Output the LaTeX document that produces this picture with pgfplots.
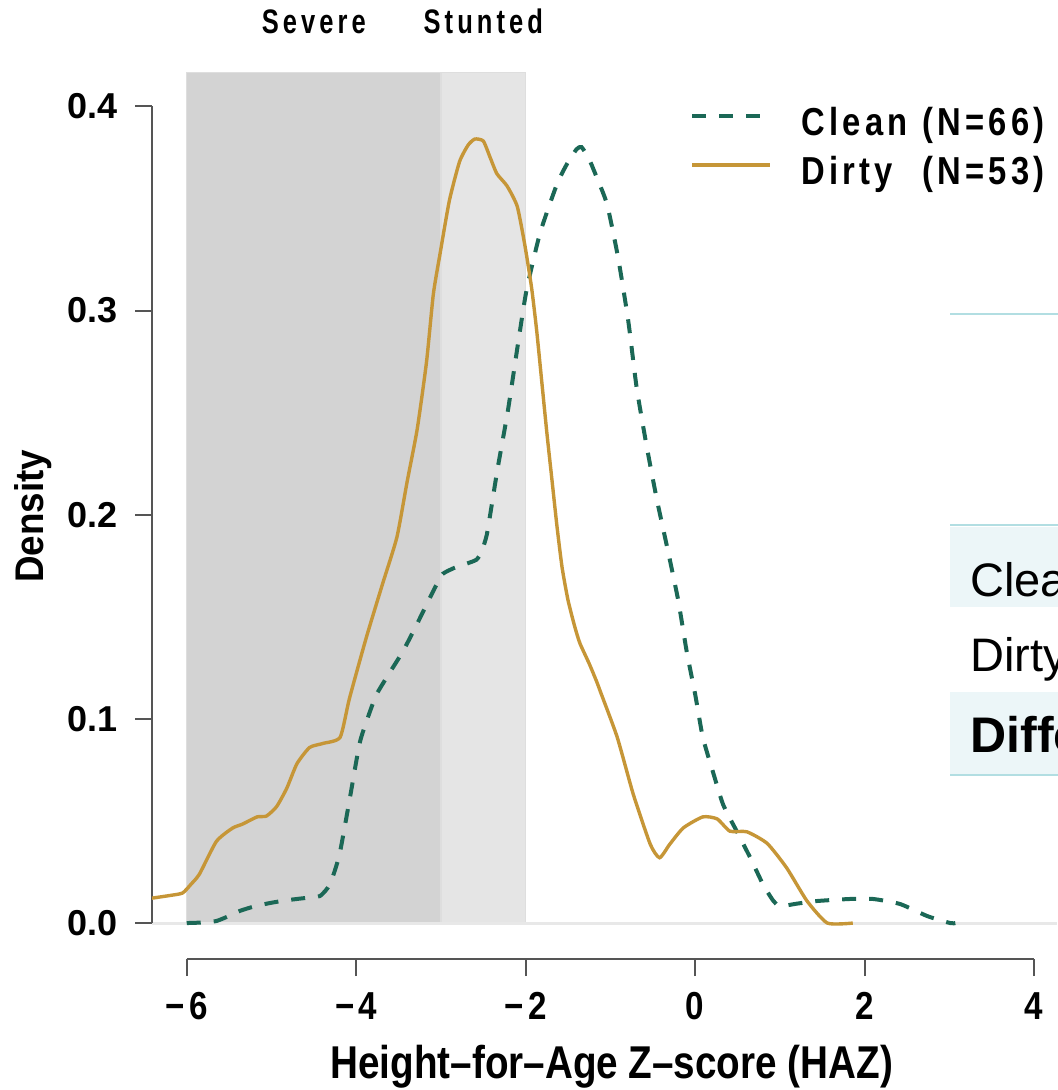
\documentclass[border=0pt]{standalone}
\usepackage{fontspec}
\setmainfont{Liberation Sans}
\newfontfamily\labfont{Liberation Sans}[FakeStretch=0.84]
\newfontfamily\ylabfont{Liberation Sans}[FakeStretch=0.92]
\newfontfamily\xtfont{Liberation Sans}[FakeStretch=0.85, LetterSpace=10]
\newfontfamily\ytfont{Liberation Sans}
\newfontfamily\legfont{Liberation Sans}[FakeStretch=0.84, LetterSpace=11]
\newfontfamily\topfont{Liberation Sans}[FakeStretch=0.75, LetterSpace=12]
\usepackage{pgfplots}
\pgfplotsset{compat=1.18}
\definecolor{dirty}{RGB}{198,150,55}
\definecolor{clean}{RGB}{27,104,86}
\definecolor{shadeA}{RGB}{211,211,211}
\definecolor{shadeB}{RGB}{229,229,229}
\definecolor{shadeEdge}{RGB}{222,222,222}
\definecolor{axgray}{RGB}{85,85,85}
\definecolor{tealline}{RGB}{178,222,226}
\definecolor{rowfill}{RGB}{236,246,248}
\definecolor{zeroline}{RGB}{232,232,232}
\begin{document}
\begin{tikzpicture}[x=1pt,y=1pt]
\useasboundingbox (0,0) rectangle (528.5,545);
% fragment of an overlapping slide table at the right edge
\fill[rowfill] (475,241.5) rectangle (540,281.5);
\fill[rowfill] (475,158) rectangle (540,199);
\draw[tealline, line width=1pt] (475,388) -- (540,388);
\draw[tealline, line width=1pt] (475,282.5) -- (540,282.5);
\draw[tealline, line width=1pt] (475,157.5) -- (540,157.5);
\node[anchor=base west, inner sep=0pt, font=\fontsize{23.5}{23.5}\selectfont] at (485,246.5) {Clean};
\node[anchor=base west, inner sep=0pt, font=\fontsize{23.5}{23.5}\selectfont] at (485,209) {Dirty};
\node[anchor=base west, inner sep=0pt, font=\bfseries\fontsize{25}{25}\selectfont] at (485,168.5) {Difference};
\begin{axis}[
  at={(76pt,65.5pt)}, anchor=south west,
  scale only axis, width=452.5pt, height=460pt,
  xmin=-6.41, xmax=4.27, ymin=-0.0176, ymax=0.433,
  clip=false,
  axis line style={draw=none},
  xtick={-6,-4,-2,0,2,4},
  xticklabels={{−6},{−4},{−2},0,2,4},
  ytick={0,0.1,0.2,0.3,0.4},
  yticklabels={0.0,0.1,0.2,0.3,0.4},
  xtick pos=lower, ytick pos=left,
  tick align=outside,
  major tick length=8.5pt,
  tick style={axgray, line width=1pt},
  xticklabel style={font=\xtfont\bfseries\fontsize{19.5}{19.5}\selectfont, anchor=base, yshift=-21.5pt},
  yticklabel style={font=\ytfont\bfseries\fontsize{18}{18}\selectfont, anchor=east, xshift=-5pt},
  xlabel={Height–for–Age Z–score (HAZ)},
  ylabel={Density},
  xlabel style={font=\labfont\bfseries\fontsize{23}{23}\selectfont, at={(axis description cs:0.508,-0.1304)}, anchor=base},
  ylabel style={font=\ylabfont\bfseries\fontsize{20}{20}\selectfont, at={(axis description cs:-0.131,0.481)}, anchor=center},
  legend style={draw=none, fill=none, at={(axis description cs:0.5945,0.9265)}, anchor=north west,
    inner sep=0pt, row sep=9pt, font=\legfont\bfseries\fontsize{19.5}{19.5}\selectfont,
    nodes={inner sep=0pt},
    /tikz/every odd column/.append style={column sep=14.5pt}},
  legend cell align=left,
  legend image code/.code={\draw[#1] (0pt,0.35em) -- (39pt,0.35em);},
]
% shaded stunting zones
\addplot[fill=shadeA, draw=shadeEdge, line width=0.6pt, forget plot] coordinates {(-6,0) (-6,0.4165) (-3,0.4165) (-3,0)} -- cycle;
\addplot[fill=shadeB, draw=shadeEdge, line width=0.6pt, forget plot] coordinates {(-3,0) (-3,0.4165) (-2,0.4165) (-2,0)} -- cycle;
\addplot[zeroline, line width=1.5pt, forget plot] coordinates {(-6.41,0) (4.27,0)};
% axis lines (R style)
\draw[axgray, line width=1pt] (axis cs:-6,-0.0176) -- (axis cs:4,-0.0176);
\draw[axgray, line width=1pt] (axis cs:-6.41,0) -- (axis cs:-6.41,0.4);
% clean
\addplot[clean, line width=2pt, dash pattern=on 7pt off 6.5pt, smooth, tension=0.35] coordinates {
(-6.0,0.0) (-5.8,0.0003) (-5.65,0.001) (-5.5,0.0035) (-5.37,0.006) (-5.2,0.0082) (-5.02,0.0098)
(-4.85,0.011) (-4.70,0.0118) (-4.55,0.0125) (-4.43,0.0132) (-4.36,0.016) (-4.31,0.019) (-4.25,0.026)
(-4.19,0.035) (-4.08,0.060) (-3.96,0.088) (-3.86,0.101) (-3.76,0.112) (-3.60,0.123) (-3.45,0.133)
(-3.30,0.145) (-3.17,0.156) (-3.05,0.166) (-2.98,0.171) (-2.84,0.174) (-2.70,0.176) (-2.58,0.178)
(-2.52,0.182) (-2.46,0.190) (-2.40,0.205) (-2.33,0.223) (-2.21,0.251) (-2.09,0.284) (-1.99,0.310)
(-1.83,0.338) (-1.63,0.362) (-1.51,0.372) (-1.40,0.379) (-1.34,0.380) (-1.25,0.374) (-1.16,0.365)
(-1.04,0.352) (-0.91,0.326) (-0.79,0.295) (-0.69,0.262) (-0.57,0.233) (-0.45,0.207) (-0.32,0.182)
(-0.20,0.158) (-0.10,0.133) (0.00,0.112) (0.09,0.091) (0.21,0.074) (0.33,0.058) (0.49,0.045)
(0.65,0.032) (0.80,0.019) (0.92,0.011) (1.00,0.0083) (1.2,0.0095) (1.44,0.0108) (1.83,0.0118)
(2.10,0.0118) (2.42,0.0093) (2.74,0.0034) (3.01,0.0) (3.07,0.0)};
\addlegendentry{\makebox[60.5pt][l]{Clean}(N=66)}
% dirty
\addplot[dirty, line width=1.7pt, smooth, tension=0.35] coordinates {
(-6.41,0.0122) (-6.2,0.0135) (-6.05,0.0147) (-5.95,0.019) (-5.85,0.024) (-5.65,0.040) (-5.46,0.0465)
(-5.34,0.0485) (-5.17,0.052) (-5.06,0.0524) (-4.94,0.057) (-4.82,0.066) (-4.70,0.078) (-4.55,0.086)
(-4.39,0.088) (-4.19,0.091) (-4.08,0.110) (-3.88,0.140) (-3.69,0.166) (-3.52,0.189) (-3.40,0.216)
(-3.28,0.242) (-3.17,0.275) (-3.09,0.308) (-3.01,0.328) (-2.90,0.354) (-2.78,0.373) (-2.68,0.381)
(-2.60,0.384) (-2.50,0.383) (-2.42,0.375) (-2.34,0.367) (-2.22,0.361) (-2.10,0.351) (-2.01,0.332)
(-1.93,0.311) (-1.87,0.290) (-1.81,0.265) (-1.75,0.240) (-1.69,0.217) (-1.63,0.194) (-1.57,0.174)
(-1.50,0.158) (-1.42,0.145) (-1.36,0.137) (-1.25,0.127) (-1.16,0.118)
(-1.12,0.1135) (-0.92,0.091) (-0.73,0.063) (-0.53,0.0386) (-0.42,0.032) (-0.30,0.0386) (-0.14,0.0466)
(0.09,0.052) (0.26,0.051) (0.41,0.045) (0.61,0.0447) (0.85,0.039) (1.08,0.027) (1.32,0.0108)
(1.56,0.0) (1.86,0.0)};
\addlegendentry{\makebox[60.5pt][l]{Dirty}(N=53)}
% zone labels
\node[anchor=base, inner sep=0pt, font=\topfont\bfseries\fontsize{17}{17}\selectfont] at (axis cs:-4.5,0.4359) {Severe};
\node[anchor=base, inner sep=0pt, font=\topfont\bfseries\fontsize{17}{17}\selectfont] at (axis cs:-2.5,0.4359) {Stunted};
\end{axis}
\end{tikzpicture}
\end{document}
